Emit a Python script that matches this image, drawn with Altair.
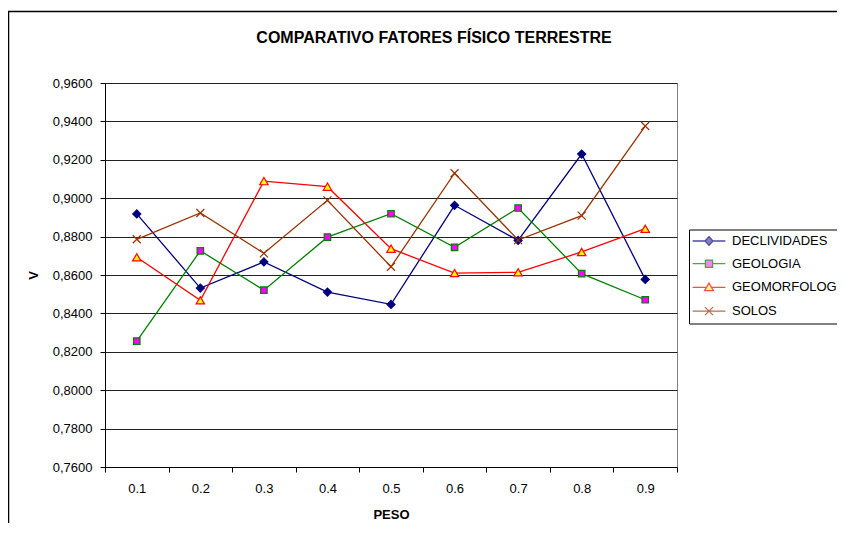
import altair as alt
import pandas as pd

# ---- data ----
peso = [0.1, 0.2, 0.3, 0.4, 0.5, 0.6, 0.7, 0.8, 0.9]
series_names = ["DECLIVIDADES", "GEOLOGIA", "GEOMORFOLOGIA", "SOLOS"]
declividades = [0.8918, 0.8532, 0.8668, 0.8511, 0.8447, 0.8963, 0.8780, 0.9230, 0.8577]
geologia = [0.8256, 0.8726, 0.8521, 0.8797, 0.8919, 0.8744, 0.8949, 0.8607, 0.8471]
geomorfologia = [0.8692, 0.8468, 0.9089, 0.9060, 0.8737, 0.8610, 0.8614, 0.8720, 0.8841]
solos = [0.8786, 0.8923, 0.8713, 0.8989, 0.8643, 0.9130, 0.8782, 0.8909, 0.9376]

y_ticks = [0.76, 0.78, 0.80, 0.82, 0.84, 0.86, 0.88, 0.90, 0.92, 0.94, 0.96]
x_ticks = [0.05, 0.15, 0.25, 0.35, 0.45, 0.55, 0.65, 0.75, 0.85, 0.95]

line_colors = ["#000080", "#008000", "#FF0000", "#993300"]
marker_fills = ["#000080", "#FF00FF", "#FFFF00", "transparent"]

FONT = "Liberation Sans"

rows = []
for name, vals in zip(series_names, [declividades, geologia, geomorfologia, solos]):
    for p, v in zip(peso, vals):
        rows.append({"PESO": p, "V": v, "serie": name})
df = pd.DataFrame(rows)
legend_df = pd.DataFrame({"serie": series_names})

W, H = 572, 384
half_band = W / 9 / 2

x_enc = alt.X(
    "PESO:Q",
    scale=alt.Scale(domain=[0.05, 0.95], nice=False, zero=False),
    axis=alt.Axis(
        values=x_ticks,
        labelExpr="datum.value > 0.9 ? '' : format(datum.value + 0.05, '.1f')",
        labelOffset=half_band,
        labelFlush=False,
        labelOverlap=False,
        labelBound=False,
        grid=False,
        tickSize=5,
        labelPadding=10,
        labelFontSize=13,
        title="PESO",
        titleFontSize=13,
        titleFontWeight="bold",
        titleX=W / 2,
        titleY=47,
        titleBaseline="middle",
    ),
)
y_enc = alt.Y(
    "V:Q",
    scale=alt.Scale(domain=[0.76, 0.96], nice=False, zero=False),
    axis=alt.Axis(
        values=y_ticks,
        labelExpr="replace(format(datum.value, '.4f'), '.', ',')",
        grid=True,
        gridColor="#222222",
        gridWidth=1.2,
        tickSize=5,
        labelPadding=8,
        labelFontSize=13,
        title="V",
        titleFontSize=13,
        titleFontWeight="bold",
        titleX=-72,
        titleY=H / 2,
        titleAngle=-90,
        titleAlign="center",
        titleBaseline="middle",
    ),
)

# legend symbols: line segment + marker (unit coordinates, scaled by sqrt(size)/2)
p_decl = "M-4.1,0H-1M1,0H4.1M0,-1.1L1,0L0,1.1L-1,0Z"
p_geol = "M-4.1,0H-0.9M0.9,0H4.1M-0.9,-0.9H0.9V0.9H-0.9Z"
p_geom = "M-4.1,0H-0.65M0.65,0H4.1M0,-1.1L1.1,0.8L-1.1,0.8Z"
p_solo = "M-4.1,0H4.1M-1,-1L1,1M-1,1L1,-1"
legend_shapes = [p_decl, p_geol, p_geom, p_solo]


def make_legend():
    return alt.Legend(
        title=None,
        orient="none",
        legendX=584,
        legendY=146.5,
        strokeColor="black",
        fillColor="white",
        padding=5,
        labelFont=FONT,
        labelFontSize=13,
        labelColor="black",
        labelLimit=300,
        symbolSize=64,
        symbolStrokeWidth=1.3,
        symbolOffset=8.5,
        labelOffset=16.5,
        rowPadding=8.7,
    )


one_row = pd.DataFrame({"k": [0]})
frame_left = alt.Chart(one_row).mark_rule(color="black", strokeWidth=1.5).encode(
    x=alt.value(-96.5), y=alt.value(-72), y2=alt.value(445)
)
frame_top = alt.Chart(one_row).mark_rule(color="black", strokeWidth=1.5).encode(
    x=alt.value(-97), x2=alt.value(740), y=alt.value(-71.5)
)

# invisible (clipped) layer that only drives the legend
legend_layer = alt.Chart(legend_df).mark_point(clip=True, filled=True).encode(
    x=alt.value(-500),
    y=alt.value(-500),
    shape=alt.Shape("serie:N", scale=alt.Scale(domain=series_names, range=legend_shapes),
                    sort=series_names, legend=make_legend()),
    fill=alt.Fill("serie:N", scale=alt.Scale(domain=series_names, range=marker_fills),
                  sort=series_names, legend=make_legend()),
    stroke=alt.Stroke("serie:N", scale=alt.Scale(domain=series_names, range=line_colors),
                      sort=series_names, legend=make_legend()),
)

line_layers = []
for name, col in zip(series_names, line_colors):
    line_layers.append(
        alt.Chart(df)
        .transform_filter(alt.datum.serie == name)
        .mark_line(strokeWidth=1.3, color=col)
        .encode(x=x_enc, y=y_enc)
    )

marker_specs = [
    ("DECLIVIDADES", "diamond", line_colors[0], line_colors[0], 64, True),
    ("GEOLOGIA", "square", marker_fills[1], line_colors[1], 42, True),
    ("GEOMORFOLOGIA", "triangle-up", marker_fills[2], line_colors[2], 70, True),
    ("SOLOS", "M-1,-1L1,1M-1,1L1,-1", "transparent", line_colors[3], 64, False),
]
point_layers = []
for name, shape, fill, stroke, size, filled in marker_specs:
    point_layers.append(
        alt.Chart(df)
        .transform_filter(alt.datum.serie == name)
        .mark_point(
            shape=shape, filled=filled, fill=fill, stroke=stroke,
            strokeWidth=1.2, size=size, opacity=1,
        )
        .encode(x=x_enc, y=y_enc)
    )

chart = (
    alt.layer(frame_left, frame_top, *line_layers, *point_layers, legend_layer)
    .properties(
        width=W,
        height=H,
        autosize=alt.AutoSizeParams(type="none"),
        padding={"left": 97, "top": 75, "right": 160, "bottom": 56},
        title=alt.TitleParams(
            "COMPARATIVO FATORES FÍSICO TERRESTRE",
            font=FONT,
            fontSize=16,
            fontWeight="bold",
            color="black",
            anchor="middle",
            frame="group",
            dx=43,
            offset=-36,
        ),
    )
    .configure(background="white", font=FONT)
    .configure_view(stroke="#808080", strokeWidth=1)
    .configure_axis(
        domainColor="black",
        tickColor="black",
        labelColor="black",
        titleColor="black",
        labelFont=FONT,
        titleFont=FONT,
    )
)

chart.save("out.html", embed_options={"renderer": "svg", "actions": False})
